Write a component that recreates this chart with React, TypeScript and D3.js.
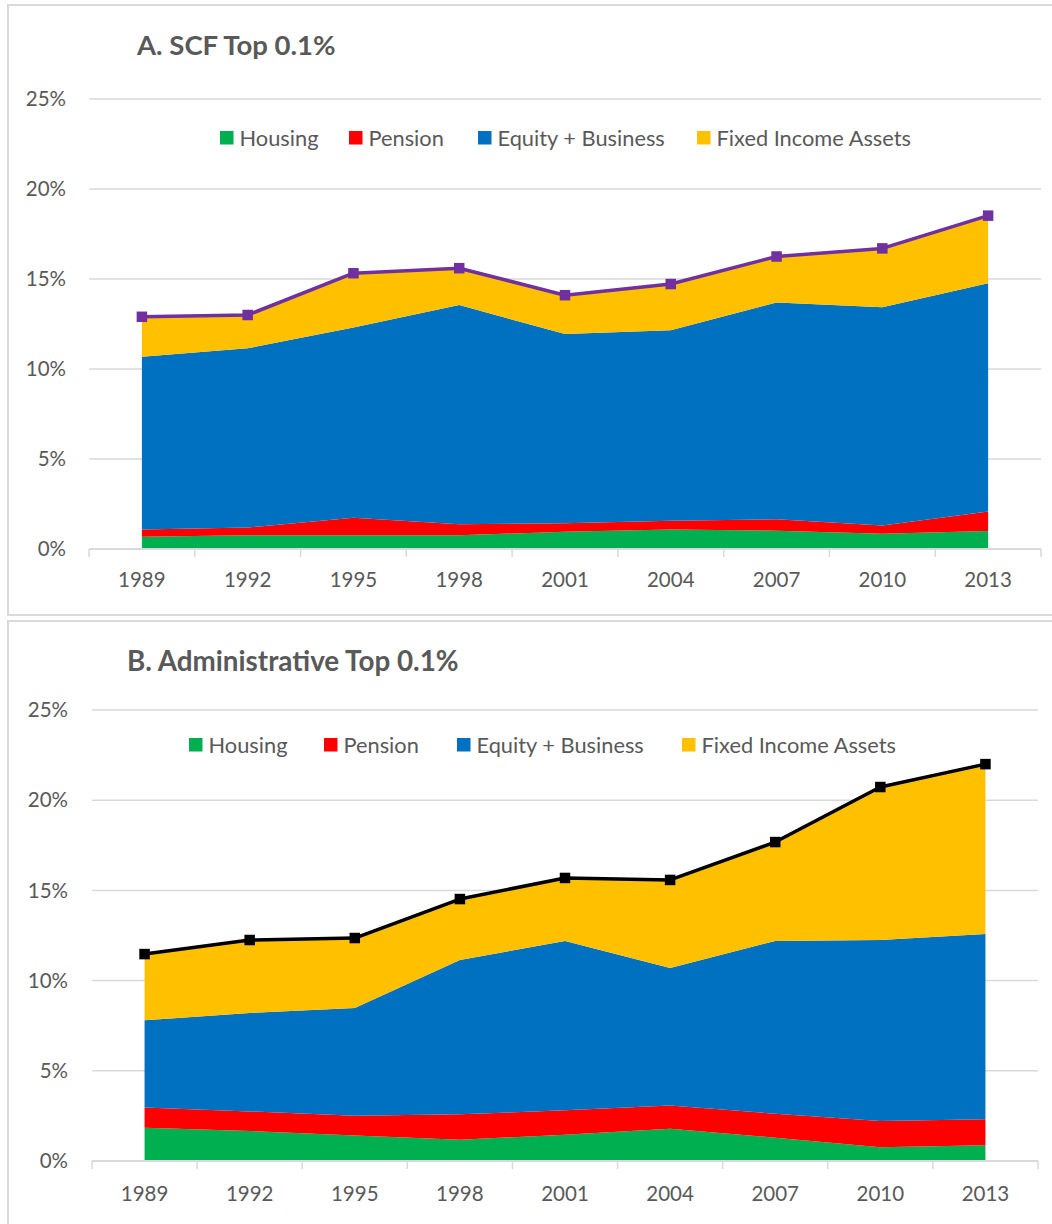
import React from 'react';
import * as d3 from 'd3';

const years = ['1989', '1992', '1995', '1998', '2001', '2004', '2007', '2010', '2013'];
const yTicks = [0, 5, 10, 15, 20, 25];
const seriesNames = ['Housing', 'Pension', 'Equity + Business', 'Fixed Income Assets'];
const seriesColors = ['#00B050', '#FF0000', '#0070C0', '#FFC000'];

// Panel A: SCF Top 0.1% (share of wealth, %)
const scfHousing = [0.68, 0.76, 0.76, 0.76, 0.96, 1.09, 1.02, 0.85, 1.0];
const scfPension = [0.41, 0.43, 0.98, 0.61, 0.47, 0.48, 0.63, 0.46, 1.09];
const scfEquity = [9.59, 9.96, 10.56, 12.18, 10.52, 10.58, 12.05, 12.12, 12.67];
const scfFixed = [2.22, 1.85, 3.02, 2.05, 2.15, 2.57, 2.55, 3.27, 3.76];

// Panel B: Administrative Top 0.1%
const admHousing = [1.85, 1.66, 1.42, 1.18, 1.46, 1.79, 1.29, 0.76, 0.87];
const admPension = [1.11, 1.09, 1.09, 1.41, 1.35, 1.28, 1.33, 1.46, 1.44];
const admEquity = [4.84, 5.45, 5.97, 8.55, 9.39, 7.63, 9.58, 10.03, 10.27];
const admFixed = [3.67, 4.05, 3.88, 3.38, 3.49, 4.88, 5.48, 8.48, 9.42];

const FONT = 'Lato, "Open Sans", sans-serif';
const TEXT = '#595959';
const GRID = '#D9D9D9';

type PanelCfg = {
  title: string;
  titleX: number;
  titleY: number;
  top: number;
  x0: number;
  x1: number;
  yBottom: number;
  yTop: number;
  yLabelX: number;
  xLabelY: number;
  legendY: number;
  legendX: number[];
  lineColor: string;
  series: number[][];
};

const panels: PanelCfg[] = [
  {
    title: 'A. SCF Top 0.1%',
    titleX: 137,
    titleY: 55,
    top: 5,
    x0: 89,
    x1: 1041,
    yBottom: 549,
    yTop: 99,
    yLabelX: 66,
    xLabelY: 587,
    legendY: 138,
    legendX: [220, 349, 478, 697],
    lineColor: '#7030A0',
    series: [scfHousing, scfPension, scfEquity, scfFixed],
  },
  {
    title: 'B. Administrative Top 0.1%',
    titleX: 127,
    titleY: 671,
    top: 621,
    x0: 92,
    x1: 1038,
    yBottom: 1161,
    yTop: 710,
    yLabelX: 68,
    xLabelY: 1201,
    legendY: 745,
    legendX: [189, 324, 457, 682],
    lineColor: '#000000',
    series: [admHousing, admPension, admEquity, admFixed],
  },
];

function Panel({ cfg, titleSize }: { cfg: PanelCfg; titleSize: number }) {
  const band = d3.scaleBand<string>().domain(years).range([cfg.x0, cfg.x1]).padding(0);
  const cx = (yr: string) => (band(yr) as number) + band.bandwidth() / 2;
  const y = d3.scaleLinear().domain([0, 25]).range([cfg.yBottom, cfg.yTop]);

  const rows = years.map((yr, i) => {
    const r: any = { year: yr };
    seriesNames.forEach((n, k) => (r[n] = cfg.series[k][i]));
    return r;
  });
  const stacked = d3.stack<any>().keys(seriesNames)(rows);
  const area = d3
    .area<any>()
    .x((d) => cx(d.data.year))
    .y0((d) => y(d[0]))
    .y1((d) => y(d[1]));

  const totals = years.map((yr, i) => ({
    year: yr,
    v: cfg.series.reduce((s, arr) => s + arr[i], 0),
  }));
  const line = d3
    .line<any>()
    .x((d) => cx(d.year))
    .y((d) => y(d.v));

  const boundaries = years.map((yr) => band(yr) as number).concat([cfg.x1]);
  const ms = 10.5;

  return (
    <g>
      <rect x={8} y={cfg.top} width={1046} height={610} fill="#fff" stroke={GRID} strokeWidth={2} />
      <text x={cfg.titleX} y={cfg.titleY} fontFamily={FONT} fontWeight={700} fontSize={titleSize} fill={TEXT}>
        {cfg.title}
      </text>
      {yTicks.map((t) => (
        <g key={t}>
          {t > 0 && (
            <line x1={cfg.x0} x2={cfg.x1} y1={y(t)} y2={y(t)} stroke={GRID} strokeWidth={1.5} />
          )}
          <text
            x={cfg.yLabelX}
            y={y(t)}
            dy="0.35em"
            textAnchor="end"
            fontFamily={FONT}
            fontSize={20.5}
            fill={TEXT}
          >
            {t + '%'}
          </text>
        </g>
      ))}
      {stacked.map((s, k) => (
        <path key={k} d={area(s) as string} fill={seriesColors[k]} />
      ))}
      <line x1={cfg.x0} x2={cfg.x1} y1={y(0)} y2={y(0)} stroke={GRID} strokeWidth={2} />
      {boundaries.map((bx, i) => (
        <line key={i} x1={bx} x2={bx} y1={y(0)} y2={y(0) + 8} stroke={GRID} strokeWidth={1.5} />
      ))}
      {years.map((yr) => (
        <text
          key={yr}
          x={cx(yr)}
          y={cfg.xLabelY}
          textAnchor="middle"
          fontFamily={FONT}
          fontSize={20.5}
          fill={TEXT}
        >
          {yr}
        </text>
      ))}
      <path d={line(totals) as string} fill="none" stroke={cfg.lineColor} strokeWidth={3.5} strokeLinejoin="round" />
      {totals.map((d) => (
        <rect
          key={d.year}
          x={cx(d.year) - ms / 2}
          y={y(d.v) - ms / 2}
          width={ms}
          height={ms}
          fill={cfg.lineColor}
        />
      ))}
      {seriesNames.map((n, k) => (
        <g key={n}>
          <rect x={cfg.legendX[k]} y={cfg.legendY - 7} width={13.5} height={13.5} fill={seriesColors[k]} />
          <text
            x={cfg.legendX[k] + 19.5}
            y={cfg.legendY}
            dy="0.35em"
            fontFamily={FONT}
            fontSize={21.8}
            fill={TEXT}
          >
            {n}
          </text>
        </g>
      ))}
    </g>
  );
}

export default function App() {
  return (
    <svg
      width={1052}
      height={1224}
      style={{ position: 'absolute', left: 0, top: 0, display: 'block', background: '#fff' }}
    >
      <rect x={0} y={0} width={1052} height={1224} fill="#fff" />
      {panels.map((p, i) => (
        <Panel key={i} cfg={p} titleSize={i === 0 ? 27.5 : 27.8} />
      ))}
    </svg>
  );
}
